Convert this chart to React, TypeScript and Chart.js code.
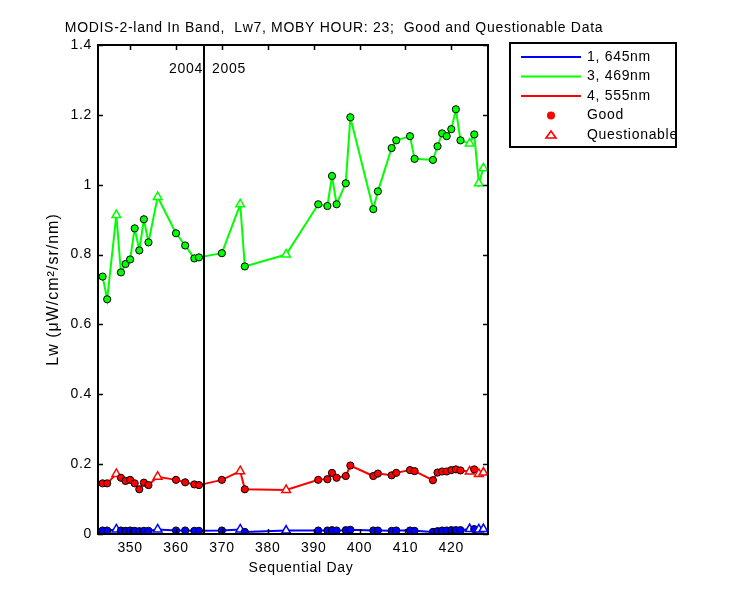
import React, { useEffect, useRef } from "react";
import { Chart, registerables } from "chart.js";
Chart.register(...registerables);

const TITLE = "MODIS-2-land In Band,  Lw7, MOBY HOUR: 23;  Good and Questionable Data";
const X_LABEL = "Sequential Day";
const Y_LABEL = "Lw (\u03bcW/cm\u00b2/sr/nm)";
const YEAR_LEFT = "2004";
const YEAR_RIGHT = "2005";
const YEAR_BOUNDARY = 366;

const days = [344, 345, 347, 348, 349, 350, 351, 352, 353, 354, 356, 360, 362, 364, 365, 370, 374, 375, 384, 391, 393, 394, 395, 397, 398, 403, 404, 407, 408, 411, 412, 416, 417, 418, 419, 420, 421, 422, 424, 425, 426, 427];
const questionable = [false, false, true, false, false, false, false, false, false, false, true, false, false, false, false, false, true, false, true, false, false, false, false, false, false, false, false, false, false, false, false, false, false, false, false, false, false, false, true, false, true, true];

const band645 = [0.010, 0.010, 0.013, 0.010, 0.009, 0.010, 0.009, 0.008, 0.009, 0.009, 0.013, 0.010, 0.010, 0.009, 0.009, 0.010, 0.013, 0.006, 0.010, 0.010, 0.010, 0.011, 0.010, 0.011, 0.012, 0.010, 0.010, 0.009, 0.010, 0.010, 0.009, 0.006, 0.008, 0.010, 0.010, 0.011, 0.011, 0.011, 0.014, 0.014, 0.013, 0.014];
const band469 = [0.737, 0.672, 0.913, 0.749, 0.773, 0.786, 0.875, 0.812, 0.901, 0.835, 0.965, 0.861, 0.826, 0.789, 0.792, 0.804, 0.944, 0.766, 0.800, 0.944, 0.939, 1.025, 0.944, 1.004, 1.193, 0.930, 0.981, 1.105, 1.127, 1.139, 1.074, 1.071, 1.110, 1.147, 1.139, 1.159, 1.216, 1.127, 1.118, 1.144, 1.004, 1.047];
const band555 = [0.145, 0.145, 0.172, 0.161, 0.152, 0.155, 0.145, 0.128, 0.147, 0.140, 0.164, 0.155, 0.148, 0.142, 0.140, 0.155, 0.180, 0.128, 0.126, 0.155, 0.157, 0.175, 0.161, 0.166, 0.196, 0.166, 0.173, 0.168, 0.175, 0.183, 0.180, 0.154, 0.176, 0.179, 0.179, 0.183, 0.185, 0.182, 0.179, 0.185, 0.172, 0.176];

const seriesNames = ["1, 645nm", "3, 469nm", "4, 555nm"];
const seriesColors = ["#0000ff", "#00ff00", "#ff0000"];
const seriesValues = [band645, band469, band555];
const legendMarkerLabels = ["Good", "Questionable"];

const xTicks = [350, 360, 370, 380, 390, 400, 410, 420];
const yTicks = [0, 0.2, 0.4, 0.6, 0.8, 1, 1.2, 1.4];

const FONT = "'Liberation Sans', Arial, sans-serif";
const SPACING = "0.7px";

const spacingPlugin = {
  id: "spacing",
  beforeUpdate(chart: any) { chart.ctx.letterSpacing = SPACING; },
  beforeDraw(chart: any) { chart.ctx.letterSpacing = SPACING; },
};

const decorPlugin = {
  id: "decor",
  afterDatasetsDraw(chart: any) {
    const { ctx, chartArea: a, scales } = chart;
    const xs = scales.x, ys = scales.y;
    ctx.save();
    ctx.letterSpacing = SPACING;
    ctx.strokeStyle = "#000";
    ctx.fillStyle = "#000";
    // year boundary line
    const bx = Math.round(xs.getPixelForValue(YEAR_BOUNDARY));
    ctx.lineWidth = 2;
    ctx.beginPath();
    ctx.moveTo(bx, a.top);
    ctx.lineTo(bx, a.bottom);
    ctx.stroke();
    // frame
    ctx.lineWidth = 2;
    ctx.strokeRect(a.left, a.top, a.right - a.left, a.bottom - a.top);
    // inward ticks
    ctx.lineWidth = 1.5;
    const tl = 5;
    ctx.beginPath();
    for (const v of xTicks) {
      const px = Math.round(xs.getPixelForValue(v)) + 0.5;
      ctx.moveTo(px, a.bottom); ctx.lineTo(px, a.bottom - tl);
      ctx.moveTo(px, a.top); ctx.lineTo(px, a.top + tl);
    }
    for (const v of yTicks) {
      const py = Math.round(ys.getPixelForValue(v)) + 0.5;
      ctx.moveTo(a.left, py); ctx.lineTo(a.left + tl, py);
      ctx.moveTo(a.right, py); ctx.lineTo(a.right - tl, py);
    }
    ctx.stroke();
    // year labels
    ctx.font = `14px ${FONT}`;
    ctx.textBaseline = "middle";
    ctx.textAlign = "right";
    ctx.fillText(YEAR_LEFT, bx - 1, 69);
    ctx.textAlign = "left";
    ctx.fillText(YEAR_RIGHT, bx + 8, 69);
    // title
    ctx.textAlign = "center";
    ctx.fillText(TITLE, 334, 28);
    // x axis title
    ctx.fillText(X_LABEL, 301, 568);
    // y axis title
    ctx.save();
    ctx.letterSpacing = "1px";
    ctx.font = `16px ${FONT}`;
    ctx.translate(54, (a.top + a.bottom) / 2);
    ctx.rotate(-Math.PI / 2);
    ctx.fillText(Y_LABEL, 0, 0);
    ctx.restore();
    // legend
    const lx = 510, ly = 43, lw = 166, lh = 104;
    ctx.fillStyle = "#fff";
    ctx.fillRect(lx, ly, lw, lh);
    ctx.strokeStyle = "#000";
    ctx.lineWidth = 2;
    ctx.strokeRect(lx, ly, lw, lh);
    const rows = [57, 76.5, 96, 115.5, 135];
    ctx.textAlign = "left";
    ctx.fillStyle = "#000";
    for (let i = 0; i < 3; i++) {
      ctx.strokeStyle = seriesColors[i];
      ctx.lineWidth = 2;
      ctx.beginPath();
      ctx.moveTo(521, rows[i]);
      ctx.lineTo(581, rows[i]);
      ctx.stroke();
      ctx.fillStyle = "#000";
      ctx.fillText(seriesNames[i], 587, rows[i]);
    }
    // good marker
    ctx.fillStyle = "#ff0000";
    ctx.beginPath();
    ctx.arc(551, rows[3], 4, 0, Math.PI * 2);
    ctx.fill();
    ctx.fillStyle = "#000";
    ctx.fillText(legendMarkerLabels[0], 587, rows[3]);
    // questionable marker
    ctx.strokeStyle = "#ff0000";
    ctx.lineWidth = 1.6;
    ctx.beginPath();
    ctx.moveTo(551, rows[4] - 4);
    ctx.lineTo(556, rows[4] + 3);
    ctx.lineTo(546, rows[4] + 3);
    ctx.closePath();
    ctx.stroke();
    ctx.fillText(legendMarkerLabels[1], 587, rows[4]);
    ctx.restore();
  },
};

export default function App() {
  const ref = useRef<HTMLCanvasElement | null>(null);
  useEffect(() => {
    document.body.style.margin = "0";
    const canvas = ref.current!;
    const datasets = seriesValues.map((vals, s) => ({
      label: seriesNames[s],
      data: days.map((d, i) => ({ x: d, y: vals[i] })),
      borderColor: seriesColors[s],
      borderWidth: 2,
      showLine: true,
      pointStyle: (c: any) => (questionable[c.dataIndex] ? "triangle" : "circle"),
      pointRadius: (c: any) => (questionable[c.dataIndex] ? 5 : 3.6),
      pointBackgroundColor: (c: any) => (questionable[c.dataIndex] ? "#ffffff" : seriesColors[s]),
      pointBorderColor: (c: any) => (questionable[c.dataIndex] ? seriesColors[s] : "#000000"),
      pointBorderWidth: (c: any) => (questionable[c.dataIndex] ? 1.5 : 1),
      order: s === 0 ? 3 : s === 1 ? 2 : 1,
    }));
    const chart = new Chart(canvas, {
      type: "line",
      data: { datasets },
      options: {
        animation: false,
        responsive: false,
        devicePixelRatio: 1,
        layout: { padding: { left: 0, right: 262, top: 45, bottom: 0 } },
        plugins: { legend: { display: false }, title: { display: false }, tooltip: { enabled: false } },
        scales: {
          x: {
            type: "linear",
            min: 343,
            max: 428,
            afterFit: (s: any) => { s.height = 66; },
            afterBuildTicks: (s: any) => { s.ticks = xTicks.map((v) => ({ value: v })); },
            grid: { display: false, drawTicks: false },
            border: { display: false },
            ticks: { color: "#000", font: { family: FONT, size: 14 }, padding: 6, maxRotation: 0, autoSkip: false },
          },
          y: {
            type: "linear",
            min: 0,
            max: 1.4,
            afterFit: (s: any) => { s.width = 98; },
            afterBuildTicks: (s: any) => { s.ticks = yTicks.map((v) => ({ value: v })); },
            grid: { display: false, drawTicks: false },
            border: { display: false },
            ticks: {
              color: "#000",
              font: { family: FONT, size: 14 },
              padding: 6,
              autoSkip: false,
              callback: (v: any) => String(Math.round(Number(v) * 10) / 10),
            },
          },
        },
      },
      plugins: [spacingPlugin, decorPlugin],
    });
    return () => chart.destroy();
  }, []);
  return (
    <div style={{ position: "absolute", left: 0, top: 0, width: 750, height: 600, background: "#fff" }}>
      <canvas ref={ref} width={750} height={600} style={{ width: 750, height: 600, display: "block" }} />
    </div>
  );
}
